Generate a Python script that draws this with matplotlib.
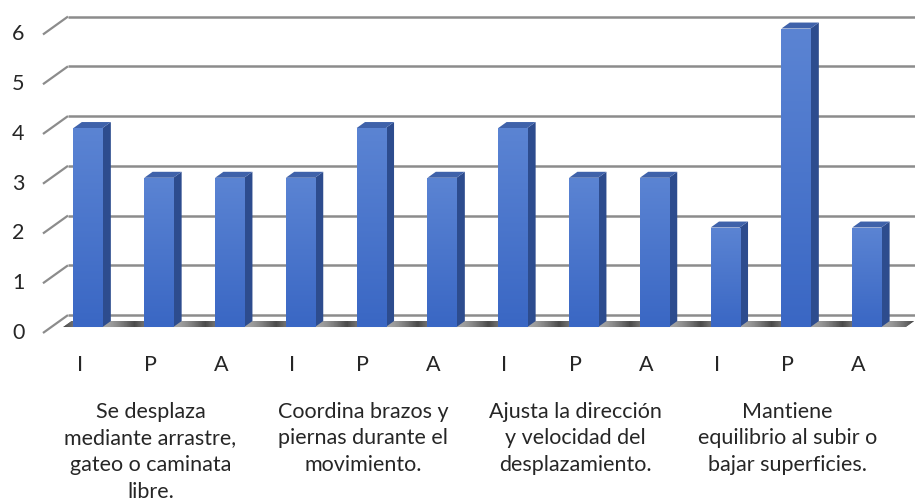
import matplotlib
matplotlib.use("Agg")
import matplotlib.pyplot as plt
import numpy as np
from matplotlib.patches import Polygon, Rectangle
from matplotlib.colors import LinearSegmentedColormap

# ---- data ----
groups = ["Se desplaza\nmediante arrastre,\ngateo o caminata\nlibre.",
          "Coordina brazos y\npiernas durante el\nmovimiento.",
          "Ajusta la dirección\ny velocidad del\ndesplazamiento.",
          "Mantiene\nequilibrio al subir o\nbajar superficies."]
letters = ["I", "P", "A"]
values = [[4, 3, 3], [3, 4, 3], [4, 3, 3], [2, 6, 2]]
yticks = [0, 1, 2, 3, 4, 5, 6]

plt.rcParams['font.family'] = ['Lato', 'DejaVu Sans']

fig = plt.figure(figsize=(9.15, 5.01), dpi=100)
ax = fig.add_axes([0, 0, 1, 1])
ax.set_xlim(-1.243, 11.681)
ax.set_ylim(-3.497, 6.573)
ax.axis('off')

# 3D geometry (data units)
D = np.array([0.353, 0.36])        # full depth vector of the plot box
front = -D / 3                      # floor front plane relative to bar fronts
back = 2 * D / 3                    # back wall relative to bar fronts
bd = D / 3                          # bar depth
w = 0.41                            # bar width
xl = -0.636 - front[0]              # left wall at front (bar-front coords)

# back-wall gridlines + left wall diagonals
for v in yticks:
    ax.plot([xl + front[0], xl + back[0]], [v + front[1], v + back[1]],
            color='#8c8c8c', lw=1.6, solid_capstyle='butt', zorder=1)
    ax.plot([xl + back[0], 12.5], [v + back[1], v + back[1]],
            color='#8c8c8c', lw=1.8, solid_capstyle='butt', zorder=1)
    ax.text(xl + front[0] - 0.35, v + front[1], str(v), fontsize=15.5,
            ha='center', va='center', color='#262626')

# floor shadow band
n_bars = sum(len(g) for g in values)
x0, x1 = -0.35, n_bars - 1 + 0.55
shadow = Polygon([[x0, 0], [x1, 0], [x1 + bd[0], bd[1]], [x0 + bd[0], bd[1]]],
                 closed=True, facecolor='#6f6f6f', edgecolor='none', zorder=2)
ax.add_patch(shadow)
grad_floor = np.tile(np.abs(np.sin(np.linspace(0, np.pi * n_bars, 600))), (2, 1))
im = ax.imshow(grad_floor, extent=[x0, x1 + bd[0], 0, bd[1]], aspect='auto',
               cmap=LinearSegmentedColormap.from_list('f', ['#4a4a4a', '#a8a8a8']),
               zorder=2.1)
im.set_clip_path(shadow)

front_cmap = LinearSegmentedColormap.from_list('b', ['#3a67c4', '#5b84d3'])
grad = np.linspace(0, 1, 100).reshape(-1, 1)

idx = 0
for gi, gvals in enumerate(values):
    for li, v in enumerate(gvals):
        i = idx
        xa, xb = i - w / 2, i + w / 2
        # side face
        ax.add_patch(Polygon([[xb, 0], [xb + bd[0], bd[1]], [xb + bd[0], v + bd[1]], [xb, v]],
                             closed=True, facecolor='#2d4c8e', edgecolor='none', zorder=3))
        # top face
        ax.add_patch(Polygon([[xa, v], [xb, v], [xb + bd[0], v + bd[1]], [xa + bd[0], v + bd[1]]],
                             closed=True, facecolor='#3f62aa', edgecolor='none', zorder=3))
        # front face with gradient
        rect = Rectangle((xa, 0), w, v, facecolor='#4472c4', edgecolor='none', zorder=3)
        ax.add_patch(rect)
        gim = ax.imshow(grad, extent=[xa, xb, 0, v], origin='lower', aspect='auto',
                        cmap=front_cmap, zorder=3.1)
        gim.set_clip_path(rect)
        ax.text(i + front[0], -0.76, letters[li], fontsize=15.5, ha='center', va='center',
                color='#262626')
        idx += 1
    mid = idx - 2
    ax.text(mid + front[0], -1.50, groups[gi], fontsize=15.5, ha='center', va='top',
            color='#262626', linespacing=1.42)

fig.savefig("out.png", dpi=100)
